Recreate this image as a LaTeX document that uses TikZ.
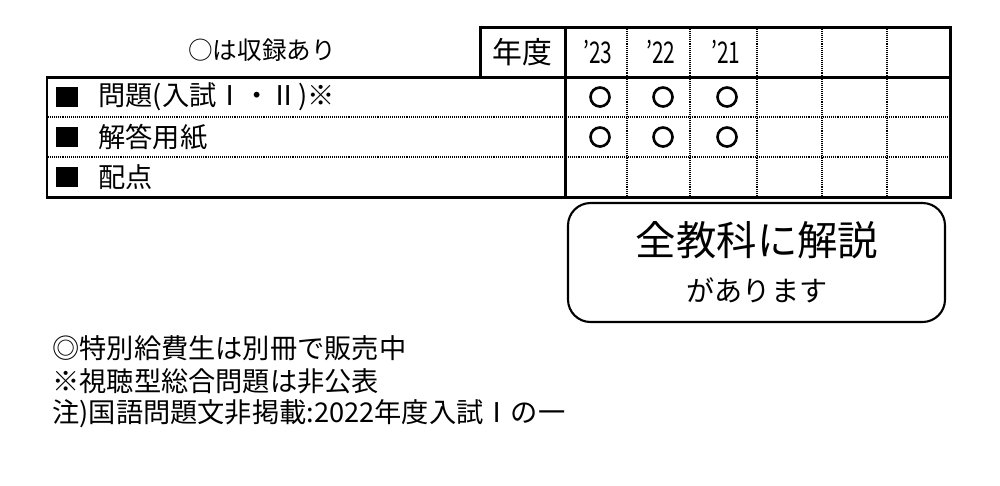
\documentclass[tikz,border=0pt]{standalone}
\usepackage{fontspec}
\setmainfont{Noto Sans CJK JP}
\newcommand{\fs}[1]{\fontsize{#1}{#1}\selectfont}
\begin{document}
\begin{tikzpicture}[x=0.02cm,y=-0.02cm,
  thick line/.style={line width=1.7pt},
  dotline/.style={line width=1pt,dash pattern=on 0.5pt off 0.6pt},
  mk/.style={circle,draw,line width=1.5pt,minimum size=0.38cm,inner sep=0},
  lbl/.style={anchor=west,inner sep=0,font=\fs{15.5pt}},
  sq/.style={fill=black,minimum width=0.44cm,minimum height=0.4cm,inner sep=0},
  yr/.style={inner sep=0,font=\fs{17pt}}]
\useasboundingbox (0,0) rectangle (1000,485);
% dotted lines
\foreach \x in {627,690,757,822,887} \draw[dotline] (\x,29) -- (\x,196);
\foreach \y in {117,157} \draw[dotline] (48,\y) -- (949,\y);
% frames
\draw[thick line] (480,27) rectangle (950,77);
\draw[thick line] (47,77) rectangle (950,197);
\draw[thick line] (565,27) -- (565,197);
\node[inner sep=0,font=\fs{17pt}] (nendo) at (522,52) {年度};
\node[yr,xscale=0.7] (y23) at (598,52) {’23};
\node[yr,xscale=0.7] (y22) at (661,52) {’22};
\node[yr,xscale=0.7] (y21) at (726,52) {’21};
\node[inner sep=0,font=\fs{14pt}] (note) at (262,50) {○は収録あり};
% rows
\node[sq] (s1) at (67,97) {};
\node[sq] (s2) at (67,137) {};
\node[sq] (s3) at (67,177) {};
\node[lbl] (r1) at (98,97) {問題(入試Ⅰ・Ⅱ)※};
\node[lbl] (r2) at (98,137) {解答用紙};
\node[lbl] (r3) at (98,177) {配点};
\foreach \x/\n in {600/a,663/b,727/c}{
  \node[mk] (m1\n) at (\x,97) {};
  \node[mk] (m2\n) at (\x,137) {};
}
% box
\draw[line width=1.2pt,rounded corners=0.45cm] (568,203) rectangle (945,322);
\node[inner sep=0,font=\fs{23pt}] (b1) at (757,240) {全教科に解説};
\node[inner sep=0,font=\fs{16pt}] (b2) at (757,290) {があります};
% notes
\node[lbl] (n1) at (52,348) {◎特別給費生は別冊で販売中};
\node[lbl] (n2) at (52,381) {※視聴型総合問題は非公表};
\node[lbl] (n3) at (52,414) {注)国語問題文非掲載:2022年度入試Ⅰの一};
\end{tikzpicture}
\end{document}
